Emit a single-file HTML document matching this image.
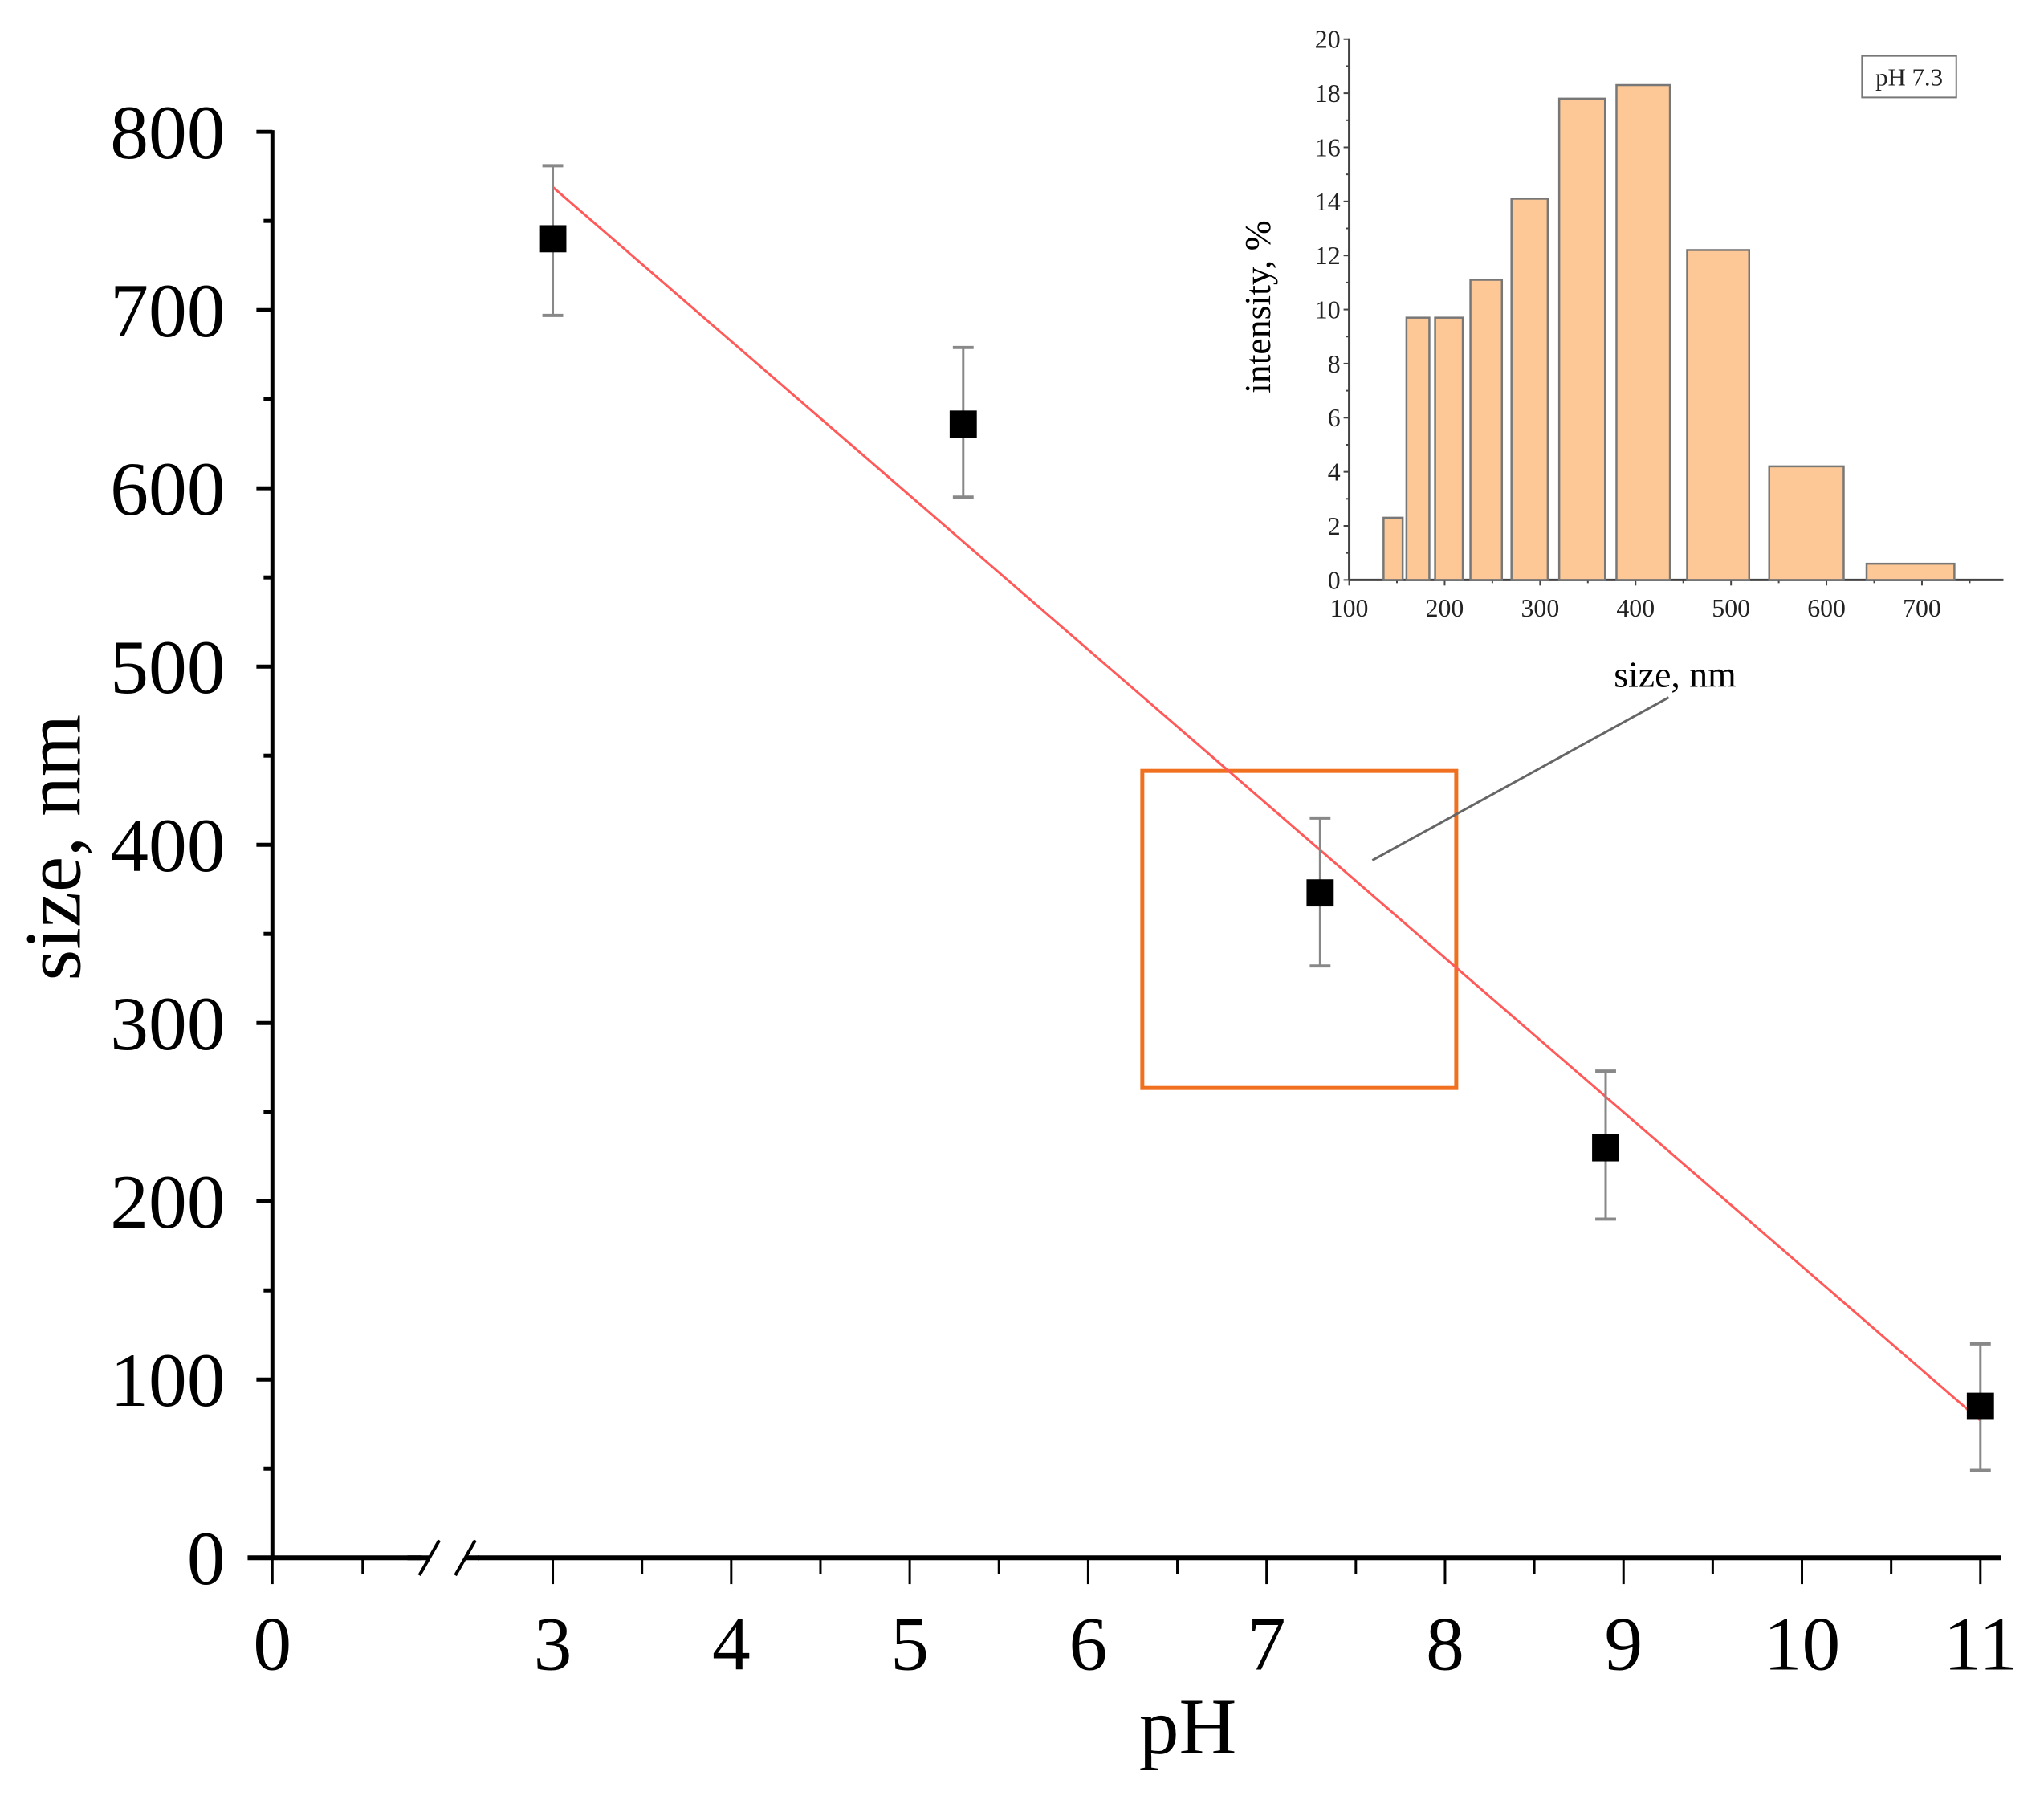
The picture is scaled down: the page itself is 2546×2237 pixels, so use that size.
<!DOCTYPE html>
<html><head><meta charset="utf-8"><style>
html,body{margin:0;padding:0;background:#fff;}
svg{display:block;font-family:"Liberation Serif","DejaVu Serif",serif;}
</style></head><body>
<svg id="chart" width="2546" height="2237" viewBox="0 0 2546 2237" xmlns="http://www.w3.org/2000/svg">
<rect width="2546" height="2237" fill="#fff"/>
<g transform="scale(0.995)">
<g id="main"></g>
<g id="inset"></g>
</g>
</svg>
<script>
// ---- main chart data ----
const phValues = [3, 5.3, 7.3, 8.9, 11];
const sizeValues = [740, 636, 373, 230, 85];
const errLow = [697, 595, 332, 190, 49];
const errHigh = [781, 679, 415, 273, 120];
const fitPh = [3, 11];
const fitSize = [769, 77];
const yTicks = [0, 100, 200, 300, 400, 500, 600, 700, 800];
const xTickLabels = [3, 4, 5, 6, 7, 8, 9, 10, 11];
// ---- inset data ----
const binLeft = [136, 160, 190, 227, 270, 320, 380, 454, 540, 642];
const binRight = [156, 184, 219, 260, 308, 368, 436, 519, 618, 734];
const intensity = [2.3, 9.7, 9.7, 11.1, 14.1, 17.8, 18.3, 12.2, 4.2, 0.6];
const insetYTicks = [0, 2, 4, 6, 8, 10, 12, 14, 16, 18, 20];
const insetXTicks = [100, 200, 300, 400, 500, 600, 700];

const NS = "http://www.w3.org/2000/svg";
function mk(parent, tag, attrs, text) {
  const e = document.createElementNS(NS, tag);
  for (const k in attrs) e.setAttribute(k, attrs[k]);
  if (text !== undefined) e.textContent = text;
  parent.appendChild(e);
  return e;
}
// main axes
const X0 = 341, Y0 = 1950;
const yScale = v => Y0 - v * (1950 - 165) / 800;
const xScale = p => 692 + (p - 3) * 223.4;
const main = document.getElementById('main');

let e;
e = mk(main, 'line', {x1: X0, y1: 163, x2: X0, y2: Y0 + 2, stroke: '#000', 'stroke-width': 5});


e = mk(main, 'line', {x1: 310, y1: Y0, x2: 2505, y2: Y0, stroke: '#000', 'stroke-width': 6});



yTicks.forEach((v, i) => {
  const y = yScale(v);
  if (v > 0) mk(main, 'line', {x1: X0 - 20, y1: y, x2: X0, y2: y, stroke: '#000', 'stroke-width': 5});
  if (i < yTicks.length - 1) {
    const ym = yScale(v + 50);
    mk(main, 'line', {x1: X0 - 11, y1: ym, x2: X0, y2: ym, stroke: '#000', 'stroke-width': 5});
  }
  const t = mk(main, 'text', {x: 282, y: y + 33, 'font-size': 96, 'text-anchor': 'end'}, String(v));
  
  
});
// x ticks
mk(main, 'line', {x1: X0, y1: Y0, x2: X0, y2: Y0 + 33, stroke: '#000', 'stroke-width': 3});
let t0 = mk(main, 'text', {x: X0, y: 2090, 'font-size': 96, 'text-anchor': 'middle'}, '0');


mk(main, 'line', {x1: 454, y1: Y0, x2: 454, y2: Y0 + 20, stroke: '#000', 'stroke-width': 3});
xTickLabels.forEach((v, i) => {
  const x = xScale(v);
  mk(main, 'line', {x1: x, y1: Y0, x2: x, y2: Y0 + 33, stroke: '#000', 'stroke-width': 3});
  if (i < xTickLabels.length - 1) {
    const xm = xScale(v + 0.5);
    mk(main, 'line', {x1: xm, y1: Y0, x2: xm, y2: Y0 + 20, stroke: '#000', 'stroke-width': 3});
  }
  const t = mk(main, 'text', {x: x, y: 2090, 'font-size': 96, 'text-anchor': 'middle'}, String(v));
  
  
});
// axis break
const br = mk(main, 'g', {});


mk(br, 'rect', {x: 528, y: Y0 - 10, width: 70, height: 20, fill: '#fff'});
mk(br, 'line', {x1: 525, y1: Y0 + 22, x2: 550, y2: Y0 - 22, stroke: '#000', 'stroke-width': 4});
mk(br, 'line', {x1: 570, y1: Y0 + 22, x2: 595, y2: Y0 - 22, stroke: '#000', 'stroke-width': 4});
mk(br, 'line', {x1: 510, y1: Y0, x2: 537, y2: Y0, stroke: '#000', 'stroke-width': 6});
mk(br, 'line', {x1: 583, y1: Y0, x2: 600, y2: Y0, stroke: '#000', 'stroke-width': 6});

let lbl = mk(main, 'text', {x: 1487, y: 2195, 'font-size': 100, 'text-anchor': 'middle'}, 'pH');


lbl = mk(main, 'text', {x: 0, y: 0, 'font-size': 100, 'text-anchor': 'middle', transform: 'translate(100,1061) rotate(-90)'}, 'size, nm');



// highlight box and connector
e = mk(main, 'rect', {x: 1430, y: 965, width: 393, height: 397, fill: 'none', stroke: '#f07020', 'stroke-width': 5});


e = mk(main, 'line', {x1: 1718, y1: 1077, x2: 2089, y2: 873, stroke: '#666', 'stroke-width': 3});



// fit line
e = mk(main, 'line', {x1: xScale(fitPh[0]), y1: yScale(fitSize[0]), x2: xScale(fitPh[1]), y2: yScale(fitSize[1]), stroke: '#ff5a5a', 'stroke-width': 3});



// points
phValues.forEach((p, i) => {
  const x = xScale(p);
  const g = mk(main, 'g', {});
  
  
  mk(g, 'line', {x1: x, y1: yScale(errLow[i]), x2: x, y2: yScale(errHigh[i]), stroke: '#888', 'stroke-width': 3});
  mk(g, 'line', {x1: x - 13, y1: yScale(errLow[i]), x2: x + 13, y2: yScale(errLow[i]), stroke: '#888', 'stroke-width': 4});
  mk(g, 'line', {x1: x - 13, y1: yScale(errHigh[i]), x2: x + 13, y2: yScale(errHigh[i]), stroke: '#888', 'stroke-width': 4});
  mk(g, 'rect', {x: x - 17, y: yScale(sizeValues[i]) - 17, width: 34, height: 34, fill: '#000'});
});

// ---- inset ----
const inset = document.getElementById('inset');
const IX0 = 1689, IY0 = 726;
const iy = v => IY0 - v * (726 - 49) / 20;
const ix = n => IX0 + (n - 100) * 1.195;
e = mk(inset, 'line', {x1: IX0, y1: 48, x2: IX0, y2: IY0, stroke: '#444', 'stroke-width': 3});


e = mk(inset, 'line', {x1: IX0, y1: IY0, x2: 2508, y2: IY0, stroke: '#444', 'stroke-width': 3});


insetYTicks.forEach((v, i) => {
  const y = iy(v);
  mk(inset, 'line', {x1: IX0 - 7, y1: y, x2: IX0, y2: y, stroke: '#444', 'stroke-width': 2});
  if (i < insetYTicks.length - 1) mk(inset, 'line', {x1: IX0 - 4, y1: iy(v + 1), x2: IX0, y2: iy(v + 1), stroke: '#444', 'stroke-width': 2});
  const t = mk(inset, 'text', {x: IX0 - 11, y: y + 11, 'font-size': 32, 'text-anchor': 'end', fill: '#222'}, String(v));
  
  
});
insetXTicks.forEach((v, i) => {
  const x = ix(v);
  mk(inset, 'line', {x1: x, y1: IY0, x2: x, y2: IY0 + 7, stroke: '#444', 'stroke-width': 2});
  mk(inset, 'line', {x1: ix(v + 50), y1: IY0, x2: ix(v + 50), y2: IY0 + 4, stroke: '#444', 'stroke-width': 2});
  const t = mk(inset, 'text', {x: x, y: IY0 + 46, 'font-size': 32, 'text-anchor': 'middle', fill: '#222'}, String(v));
  
  
});
intensity.forEach((v, i) => {
  const x1 = ix(binLeft[i]), x2 = ix(binRight[i]);
  const r = mk(inset, 'rect', {x: x1, y: iy(v), width: x2 - x1, height: IY0 - iy(v), fill: '#fdc896', stroke: '#777', 'stroke-width': 2.5});
  
  
});
lbl = mk(inset, 'text', {x: 2097, y: 860, 'font-size': 46, 'text-anchor': 'middle'}, 'size, nm');


lbl = mk(inset, 'text', {x: 0, y: 0, 'font-size': 46, 'text-anchor': 'middle', transform: 'translate(1590,384) rotate(-90)'}, 'intensity, %');


const lg = mk(inset, 'g', {});


mk(lg, 'rect', {x: 2331, y: 70, width: 118, height: 52, fill: '#fff', stroke: '#777', 'stroke-width': 2});
mk(lg, 'text', {x: 2390, y: 107, 'font-size': 31, 'text-anchor': 'middle', fill: '#222'}, 'pH 7.3');
</script>
</body></html>
